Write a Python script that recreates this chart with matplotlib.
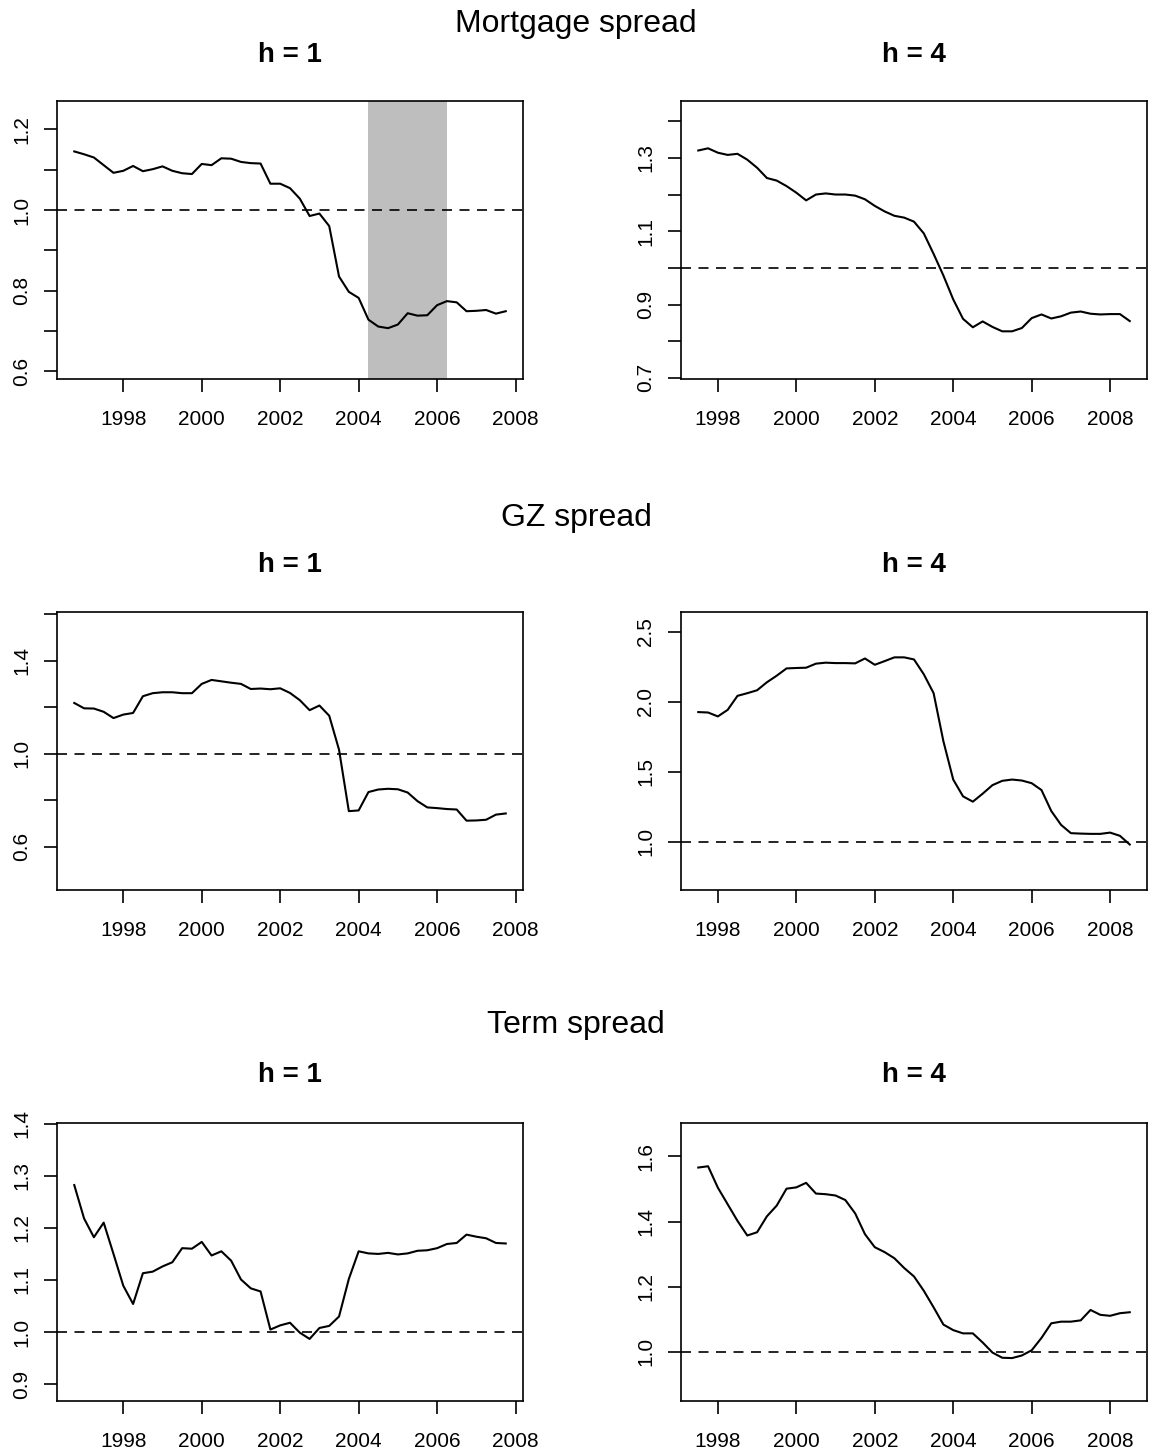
import matplotlib
matplotlib.use("Agg")
import matplotlib.pyplot as plt
import pandas as pd

plt.rcParams['font.family'] = ['Liberation Sans', 'DejaVu Sans']

# ---------------- data ----------------
start_h1 = "1996Q4"
start_h4 = "1997Q3"
n_quarters = 45

mort_h1 = [1.145, 1.138, 1.130, 1.111, 1.092, 1.097, 1.109, 1.096, 1.101, 1.108,
           1.097, 1.091, 1.089, 1.114, 1.111, 1.128, 1.127, 1.119, 1.116, 1.115,
           1.065, 1.065, 1.054, 1.028, 0.985, 0.991, 0.960, 0.835, 0.797, 0.782,
           0.728, 0.711, 0.707, 0.716, 0.744, 0.738, 0.739, 0.764, 0.774, 0.771,
           0.749, 0.750, 0.752, 0.743, 0.749]
mort_h4 = [1.320, 1.326, 1.314, 1.308, 1.311, 1.295, 1.273, 1.245, 1.238, 1.223,
           1.205, 1.184, 1.200, 1.203, 1.200, 1.200, 1.197, 1.187, 1.169, 1.154,
           1.142, 1.137, 1.126, 1.094, 1.038, 0.979, 0.914, 0.861, 0.838, 0.854,
           0.839, 0.827, 0.827, 0.836, 0.863, 0.873, 0.862, 0.868, 0.878, 0.881,
           0.875, 0.873, 0.874, 0.874, 0.855]
gz_h1 = [1.218, 1.195, 1.194, 1.180, 1.153, 1.168, 1.175, 1.247, 1.260, 1.264,
         1.264, 1.260, 1.260, 1.300, 1.317, 1.311, 1.305, 1.300, 1.278, 1.280,
         1.277, 1.281, 1.261, 1.230, 1.187, 1.207, 1.163, 1.017, 0.753, 0.756,
         0.835, 0.846, 0.849, 0.847, 0.833, 0.796, 0.769, 0.766, 0.762, 0.760,
         0.712, 0.713, 0.716, 0.738, 0.743]
gz_h4 = [1.927, 1.924, 1.896, 1.943, 2.043, 2.062, 2.083, 2.140, 2.187, 2.239,
         2.242, 2.244, 2.273, 2.280, 2.277, 2.277, 2.275, 2.310, 2.265, 2.291,
         2.318, 2.318, 2.303, 2.197, 2.062, 1.718, 1.445, 1.325, 1.287, 1.344,
         1.405, 1.436, 1.445, 1.438, 1.419, 1.370, 1.220, 1.121, 1.062, 1.059,
         1.057, 1.057, 1.066, 1.043, 0.981]
term_h1 = [1.282, 1.218, 1.182, 1.210, 1.150, 1.089, 1.054, 1.113, 1.116, 1.126,
           1.134, 1.161, 1.160, 1.173, 1.147, 1.155, 1.137, 1.101, 1.084, 1.078,
           1.005, 1.013, 1.018, 0.999, 0.987, 1.008, 1.012, 1.030, 1.102, 1.155,
           1.151, 1.150, 1.152, 1.149, 1.151, 1.156, 1.157, 1.161, 1.169, 1.171,
           1.187, 1.183, 1.180, 1.171, 1.170]
term_h4 = [1.566, 1.570, 1.504, 1.453, 1.402, 1.357, 1.367, 1.416, 1.449, 1.501,
           1.505, 1.519, 1.486, 1.484, 1.480, 1.466, 1.425, 1.361, 1.321, 1.306,
           1.287, 1.257, 1.231, 1.187, 1.136, 1.083, 1.066, 1.056, 1.056, 1.028,
           0.997, 0.981, 0.980, 0.988, 1.004, 1.042, 1.087, 1.092, 1.092, 1.096,
           1.128, 1.113, 1.110, 1.118, 1.121]

row_titles = ["Mortgage spread", "GZ spread", "Term spread"]
col_titles = ["h = 1", "h = 4"]
x_ticks = [1998, 2000, 2002, 2004, 2006, 2008]
shade_period = (2004.25, 2006.25)


def decimal_quarters(start, n):
    p = pd.period_range(start, periods=n, freq="Q")
    return (p.year + (p.quarter - 1) / 4.0).to_numpy()


t_h1 = decimal_quarters(start_h1, n_quarters)
t_h4 = decimal_quarters(start_h4, n_quarters)

panels = [
    # (series, time, ylim, yticks, ylabels shown, shade)
    (mort_h1, t_h1, (0.581, 1.270), [0.6, 0.7, 0.8, 0.9, 1.0, 1.1, 1.2], [0.6, 0.8, 1.0, 1.2], True),
    (mort_h4, t_h4, (0.697, 1.455), [0.7, 0.8, 0.9, 1.0, 1.1, 1.2, 1.3, 1.4], [0.7, 0.9, 1.1, 1.3], False),
    (gz_h1, t_h1, (0.414, 1.609), [0.6, 0.8, 1.0, 1.2, 1.4, 1.6], [0.6, 1.0, 1.4], False),
    (gz_h4, t_h4, (0.656, 2.642), [1.0, 1.5, 2.0, 2.5], [1.0, 1.5, 2.0, 2.5], False),
    (term_h1, t_h1, (0.868, 1.401), [0.9, 1.0, 1.1, 1.2, 1.3, 1.4], [0.9, 1.0, 1.1, 1.2, 1.3, 1.4], False),
    (term_h4, t_h4, (0.848, 1.703), [1.0, 1.2, 1.4, 1.6], [1.0, 1.2, 1.4, 1.6], False),
]

# ---------------- layout ----------------
W, H = 1152, 1456
fig = plt.figure(figsize=(W / 100, H / 100), dpi=100)

col_left = [57, 681]
box_w = 466
row_top = [101, 612, 1123]
box_h = 278

row_title_base = [32, 526, 1033]
col_title_base = [62, 572, 1082]

for k, (series, t, ylim, yticks, ylab_shown, shade) in enumerate(panels):
    r, c = divmod(k, 2)
    l = col_left[c]
    top = row_top[r]
    ax = fig.add_axes([l / W, (H - top - box_h) / H, box_w / W, box_h / H])
    pad = 0.04 * (t[-1] - t[0])
    ax.set_xlim(t[0] - pad, t[-1] + pad)
    ax.set_ylim(*ylim)
    if shade:
        ax.axvspan(shade_period[0], shade_period[1], color="#BEBEBE", lw=0, zorder=1)
    ax.axhline(1.0, color="black", lw=1.2, ls=(0, (6.0, 4.5)), zorder=2)
    ax.plot(t, series, color="black", lw=1.5, zorder=3)

    ax.set_xticks(x_ticks)
    ax.set_xticklabels([str(v) for v in x_ticks])
    ax.set_yticks(yticks)
    ax.set_yticklabels([f"{v:.1f}" if any(abs(v - s) < 1e-9 for s in ylab_shown) else "" for v in yticks])
    ax.tick_params(axis="both", direction="out", length=9.5, width=1.2, labelsize=15, color="black")
    ax.tick_params(axis="x", pad=12.5)
    ax.tick_params(axis="y", pad=9, labelrotation=90)
    for lbl in ax.get_yticklabels():
        lbl.set_va("center")
    for sp in ax.spines.values():
        sp.set_linewidth(1.2)
        sp.set_color("black")

    ax.set_facecolor("white")
    fig.text((l + box_w / 2) / W, 1 - col_title_base[r] / H, col_titles[c],
             ha="center", va="baseline", fontsize=20, fontweight="bold")

for r in range(3):
    fig.text(0.5, 1 - row_title_base[r] / H, row_titles[r], ha="center", va="baseline", fontsize=23)

fig.savefig("out.png", dpi=100, facecolor="white")
